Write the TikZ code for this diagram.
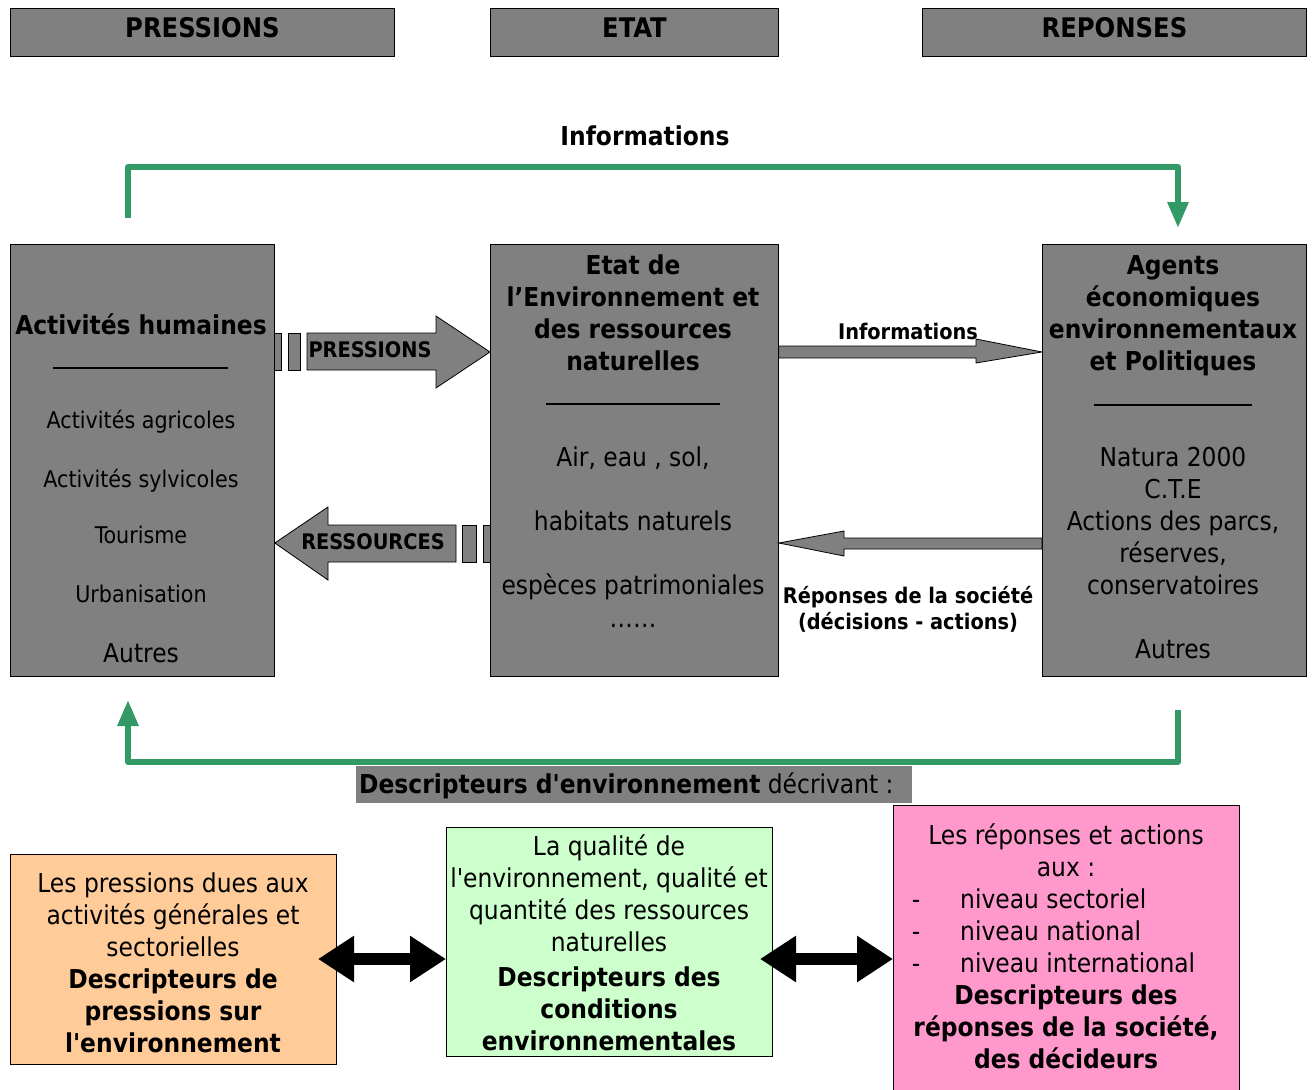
\documentclass[tikz,border=0pt]{standalone}
\usepackage{fontspec}
\setmainfont{DejaVu Sans Condensed}
\usetikzlibrary{arrows.meta,positioning}
\definecolor{boxgray}{HTML}{808080}
\definecolor{infogreen}{HTML}{339966}
\definecolor{presorange}{HTML}{FFCC99}
\definecolor{etatgreen}{HTML}{CCFFCC}
\definecolor{reppink}{HTML}{FF99CC}
\newcommand{\sq}{\textquotesingle}
\tikzset{
    raw box/.style={rectangle, draw, thick, anchor=north west, inner sep=0pt},
    head box/.style={raw box, fill=boxgray, minimum height=48pt, text depth=10pt,
        font=\bfseries\fontsize{27}{30}\selectfont},
    main box/.style={raw box, fill=boxgray, minimum height=432pt},
    txt/.style={inner sep=0pt, yshift=-5pt, text height=0.95em, text depth=0.05em,
        font=\fontsize{26}{30}\selectfont},
    small txt/.style={txt, font=\fontsize{23}{26}\selectfont},
    btxt/.style={txt, font=\bfseries\fontsize{26}{30}\selectfont},
    arrow txt/.style={txt, font=\bfseries\fontsize{21.5}{24}\selectfont},
    block arrow/.style={draw, thick, fill=boxgray, line join=miter},
    info line/.style={draw=infogreen, line width=6pt, line join=round,
        -{Triangle[width=20pt,length=26pt]}},
    both arrow/.style={line width=12pt,
        {Triangle[width=44pt,length=36pt]}-{Triangle[width=44pt,length=36pt]}}
}
\begin{document}
\begin{tikzpicture}[x=1pt, y=-1pt]
\useasboundingbox (0,0) rectangle (1313,1089);

\node[head box, minimum width=384pt] (hpres) at (10,8) {PRESSIONS};
\node[head box, minimum width=288pt] (hetat) at (490,8) {ETAT};
\node[head box, minimum width=384pt] (hrep) at (922,8) {REPONSES};

\node[main box, minimum width=264pt] (act) at (10,244) {};
\node[main box, minimum width=288pt] (etat) at (490,244) {};
\node[main box, minimum width=264pt] (agents) at (1042,244) {};

\node[btxt] (act-t) at (141,325) {Activités humaines};
\draw[line width=1.2pt] (53,368) -- (228,368);
\foreach \y/\t [count=\i] in {419/Activités agricoles, 478/Activités sylvicoles,
    534/Tourisme, 593/Urbanisation}
    \node[small txt] (act-\i) at (141,\y) {\t};
\node[txt] (act-5) at (141,653) {Autres};

\foreach \y/\t [count=\i] in {265/Etat de, 297/l’Environnement et,
    329/des ressources, 361/naturelles}
    \node[btxt] (etat-t\i) at (633,\y) {\t};
\draw[line width=1.2pt] (546,404) -- (720,404);
\foreach \y/\t [count=\i] in {457/{Air, eau , sol,}, 521/habitats naturels,
    585/espèces patrimoniales, 618/……}
    \node[txt] (etat-\i) at (633,\y) {\t};

\foreach \y/\t [count=\i] in {265/Agents, 297/économiques,
    329/environnementaux, 361/et Politiques}
    \node[btxt] (agents-t\i) at (1173,\y) {\t};
\draw[line width=1.2pt] (1094,405) -- (1252,405);
\foreach \y/\t [count=\i] in {457/Natura 2000, 489/C.T.E, 521/{Actions des parcs,},
    553/{réserves,}, 585/conservatoires, 649/Autres}
    \node[txt] (agents-\i) at (1173,\y) {\t};

% pressions / ressources
\draw[block arrow] (act.east |- 0,333) rectangle (281,370);
\draw[block arrow] (288,333) rectangle (300,370);
\draw[block arrow] (307,333) -- (436,333) -- (436,316) -- (etat.west |- 0,352)
    -- (436,388) -- (436,370) -- (307,370) -- cycle;
\node[arrow txt] (pres-t) at (370,348) {PRESSIONS};
\draw[block arrow] (act.east |- 0,543) -- (328,507) -- (328,525) -- (456,525)
    -- (456,562) -- (328,562) -- (328,580) -- cycle;
\draw[block arrow] (462,525) rectangle (476,562);
\draw[block arrow] (483,525) rectangle (etat.west |- 0,562);
\node[arrow txt] (ress-t) at (373,540) {RESSOURCES};

% informations / reponses
\draw[block arrow] (etat.east |- 0,346) -- (976,346) -- (976,339) -- (agents.west |- 0,352)
    -- (976,363) -- (976,358) -- (etat.east |- 0,358) -- cycle;
\node[arrow txt] (info-t) at (908,330) {Informations};
\draw[block arrow] (etat.east |- 0,543) -- (844,531) -- (844,538) -- (agents.west |- 0,538)
    -- (agents.west |- 0,549) -- (844,549) -- (844,556) -- cycle;
\node[arrow txt] (rep-t1) at (908,594) {Réponses de la société};
\node[arrow txt] (rep-t2) at (908,620) {(décisions - actions)};

% boucles vertes
\node[btxt] (info-top) at (645,136) {Informations};
\coordinate (loopA) at (128,218);
\coordinate (loopB) at (1178,228);
\coordinate (loopC) at (1178,710);
\coordinate (loopD) at (128,700);
\draw[info line] (loopA) -- (128,167) -- (1178,167) -- (loopB);
\draw[info line] (loopC) -- (1178,762) -- (128,762) -- (loopD);

\node[rectangle, fill=boxgray, anchor=north west, minimum width=556pt, minimum height=37pt,
    inner sep=0pt] (desc) at (356,766) {};
\node[txt, anchor=west] (desc-t) at (359,784)
    {\textbf{Descripteurs d\sq environnement} décrivant :};

% descripteurs
\node[raw box, thin, fill=presorange, minimum width=326pt, minimum height=210pt] (dpres) at (10,854) {};
\node[raw box, thin, fill=etatgreen, minimum width=326pt, minimum height=229pt] (detat) at (446,827) {};
\node[raw box, thin, fill=reppink, minimum width=346pt, minimum height=290pt] (drep) at (893,805) {};

\foreach \y/\t [count=\i] in {883/Les pressions dues aux, 915/activités générales et,
    947/sectorielles}
    \node[txt] (dpres-\i) at (173,\y) {\t};
\foreach \y/\t [count=\i] in {979/Descripteurs de, 1011/pressions sur, 1043/l\sq environnement}
    \node[btxt] (dpres-b\i) at (173,\y) {\t};

\foreach \y/\t [count=\i] in {846/La qualité de, 878/{l\sq environnement, qualité et},
    910/quantité des ressources, 942/naturelles}
    \node[txt] (detat-\i) at (609,\y) {\t};
\foreach \y/\t [count=\i] in {977/Descripteurs des, 1009/conditions, 1041/environnementales}
    \node[btxt] (detat-b\i) at (609,\y) {\t};

\foreach \y/\t [count=\i] in {835/Les réponses et actions, 867/aux :}
    \node[txt] (drep-\i) at (1066,\y) {\t};
\foreach \y/\t [count=\i] in {899/niveau sectoriel, 931/niveau national, 963/niveau international}{
    \node[txt] (drep-d\i) at (916,\y) {-};
    \node[txt, anchor=west] (drep-l\i) at (960,\y) {\t};
}
\foreach \y/\t [count=\i] in {995/Descripteurs des, 1027/{réponses de la société,},
    1059/des décideurs}
    \node[btxt] (drep-b\i) at (1066,\y) {\t};

\draw[both arrow] (318,959) -- (detat.west |- 0,959);
\draw[both arrow] (760,959) -- (drep.west |- 0,959);
\end{tikzpicture}
\end{document}
